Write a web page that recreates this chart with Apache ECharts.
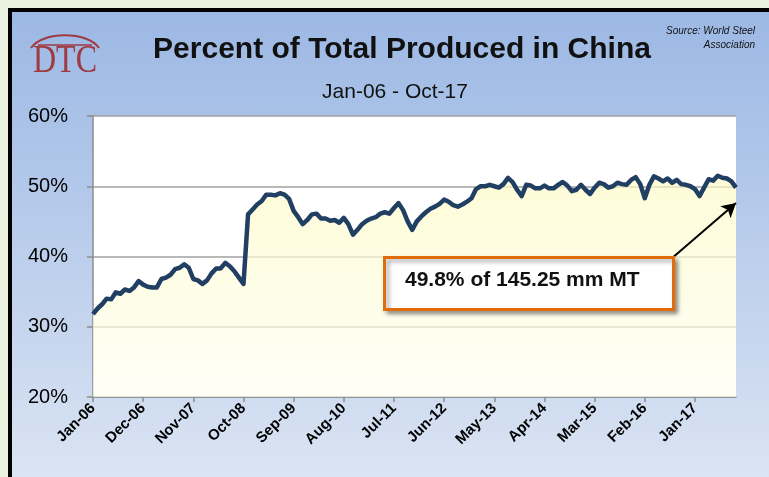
<!DOCTYPE html>
<html>
<head>
<meta charset="utf-8">
<script src="https://cdn.jsdelivr.net/npm/echarts@6/dist/echarts.min.js"></script>
<style>
  html, body { margin: 0; padding: 0; background: #ecf2e0; }
  #frame { position: absolute; left: 8px; top: 8px; width: 757px; height: 469px;
           border-left: 4px solid #000; border-top: 4px solid #000;
           background: linear-gradient(to bottom, #9cb8e4 0%, #b4c9ea 40%, #dbe4f3 100%); }
  #chart { position: absolute; left: 0; top: 0; width: 769px; height: 477px; }
</style>
</head>
<body>
<div id="frame"></div>
<div id="chart"></div>
<script>
// ---- data ----
const monthNames = ['Jan','Feb','Mar','Apr','May','Jun','Jul','Aug','Sep','Oct','Nov','Dec'];
const startYear = 2006;
const pointCount = 142; // Jan-06 .. Oct-17
const categories = [];
for (let i = 0; i < pointCount; i++) {
  const y = startYear + Math.floor(i / 12);
  categories.push(monthNames[i % 12] + '-' + String(y % 100).padStart(2, '0'));
}
// Percent of world steel produced in China (monthly, %)
const chinaShare = [
  31.8, 32.6, 33.2, 34.0, 33.9, 34.9, 34.7, 35.3, 35.1, 35.6, 36.5, 36.0,
  35.7, 35.6, 35.6, 36.8, 37.0, 37.4, 38.2, 38.4, 38.9, 38.4, 36.8, 36.6,
  36.1, 36.6, 37.6, 38.3, 38.3, 39.1, 38.6, 37.9, 37.0, 36.1, 46.0, 46.7,
  47.4, 47.9, 48.8, 48.8, 48.7, 49.0, 48.8, 48.2, 46.5, 45.6, 44.6, 45.2,
  46.0, 46.1, 45.4, 45.4, 45.1, 45.2, 44.8, 45.5, 44.6, 43.1, 43.8, 44.6,
  45.1, 45.4, 45.6, 46.1, 46.3, 46.1, 46.9, 47.6, 46.6, 45.0, 43.8, 45.0,
  45.7, 46.3, 46.8, 47.1, 47.5, 48.1, 47.8, 47.3, 47.1, 47.4, 47.8, 48.3,
  49.6, 50.0, 50.0, 50.2, 50.0, 49.8, 50.3, 51.2, 50.6, 49.5, 48.6, 50.2,
  50.1, 49.7, 49.7, 50.1, 49.7, 49.7, 50.2, 50.6, 50.1, 49.3, 49.5, 50.2,
  49.5, 48.9, 49.8, 50.5, 50.3, 49.8, 50.0, 50.5, 50.3, 50.2, 50.9, 51.3,
  50.3, 48.3, 50.2, 51.4, 51.1, 50.7, 51.1, 50.5, 50.9, 50.3, 50.2, 50.0,
  49.6, 48.6, 49.8, 51.0, 50.8, 51.5, 51.2, 51.1, 50.7, 49.8
];
const yTicks = [20, 30, 40, 50, 60];
const titleText = 'Percent of Total Produced in China';
const subtitleText = 'Jan-06 - Oct-17';
const calloutText = '49.8% of 145.25 mm MT';
const sourceLines = ['Source: World Steel', 'Association'];
// arrow from call-out corner to the last point (category, value)
const arrowStart = ['Aug-16', 39.8];
const arrowEnd = ['Oct-17', 47.6];

// ---- chart ----
const chart = echarts.init(document.getElementById('chart'), null, { renderer: 'canvas' });
const logoColor = '#9e3a40';
const option = {
  backgroundColor: 'transparent',
  animation: false,
  title: [
    { text: titleText, left: 397, textAlign: 'center', top: 30,
      textStyle: { fontFamily: 'Liberation Sans', fontSize: 30, fontWeight: 'bold', color: '#111' } },
    { text: subtitleText, left: 390, textAlign: 'center', top: 77,
      textStyle: { fontFamily: 'Liberation Sans', fontSize: 21, fontWeight: 'normal', color: '#111' } }
  ],
  grid: { left: 93, right: 33, top: 116, bottom: 80, show: true, backgroundColor: '#ffffff', borderWidth: 0 },
  xAxis: {
    type: 'category', data: categories, boundaryGap: false,
    axisLine: { lineStyle: { color: '#8c8c8c', width: 1.5 } },
    axisTick: { interval: 10, length: 5, lineStyle: { color: '#8c8c8c', width: 1.5 } },
    axisLabel: { interval: 10, rotate: 45, margin: 9, color: '#000',
      fontFamily: 'Liberation Sans', fontSize: 15, fontWeight: 'bold' },
    splitLine: { show: false }
  },
  yAxis: {
    type: 'value', min: yTicks[0], max: yTicks[yTicks.length - 1], interval: 10,
    axisLine: { show: true, lineStyle: { color: '#8c8c8c', width: 1.5 } },
    axisTick: { show: true, length: 6, lineStyle: { color: '#8c8c8c', width: 1.5 } },
    axisLabel: { formatter: '{value}%', margin: 25, color: '#000',
      fontFamily: 'Liberation Sans', fontSize: 20 },
    splitLine: { lineStyle: { color: '#a0a0a0', width: 1.5 } }
  },
  series: [{
    type: 'line', data: chinaShare, showSymbol: false, symbol: 'none',
    lineStyle: { color: '#203f62', width: 4.5, join: 'round' },
    areaStyle: { color: new echarts.graphic.LinearGradient(0, 0, 0, 1, [
      { offset: 0, color: '#fdfac6' }, { offset: 1, color: '#fffff4' }]) },
    z: 3,
    markLine: {
      silent: true, symbol: ['none', 'arrow'], symbolSize: [12, 14],
      lineStyle: { color: '#000', width: 2, type: 'solid' },
      label: { show: false },
      data: [[ { coord: arrowStart }, { coord: arrowEnd } ]]
    }
  }],
  graphic: [
    // call-out box
    { type: 'rect', left: 383, top: 256, z: 10,
      shape: { width: 289, height: 52 },
      style: { fill: '#ffffff', stroke: '#e36c0a', lineWidth: 3,
        shadowBlur: 4, shadowOffsetX: 3, shadowOffsetY: 3, shadowColor: 'rgba(0,0,0,0.35)' } },
    { type: 'text', left: 405, top: 270, z: 11,
      style: { text: calloutText, fill: '#111', font: 'bold 21px "Liberation Sans"' } },
    // source note
    { type: 'text', right: 14, top: 26, z: 10,
      style: { text: sourceLines[0], fill: '#111', font: 'italic 10px "Liberation Sans"', align: 'right' } },
    { type: 'text', right: 14, top: 40, z: 10,
      style: { text: sourceLines[1], fill: '#111', font: 'italic 10px "Liberation Sans"', align: 'right' } },
    // DTC logo
    { type: 'text', x: 33, y: 41, scaleX: 0.8, z: 10,
      style: { text: 'DTC', fill: logoColor, font: '40px "Liberation Serif"' } },
    { type: 'bezierCurve', z: 10,
      shape: { x1: 31, y1: 48, x2: 99, y2: 48, cpx1: 42, cpy1: 31, cpx2: 88, cpy2: 31 },
      style: { stroke: logoColor, lineWidth: 2, fill: 'none' } },
    { type: 'line', z: 10,
      shape: { x1: 38, y1: 45, x2: 92, y2: 45 },
      style: { stroke: logoColor, lineWidth: 1.5 } }
  ]
};
chart.setOption(option);
</script>
</body>
</html>
